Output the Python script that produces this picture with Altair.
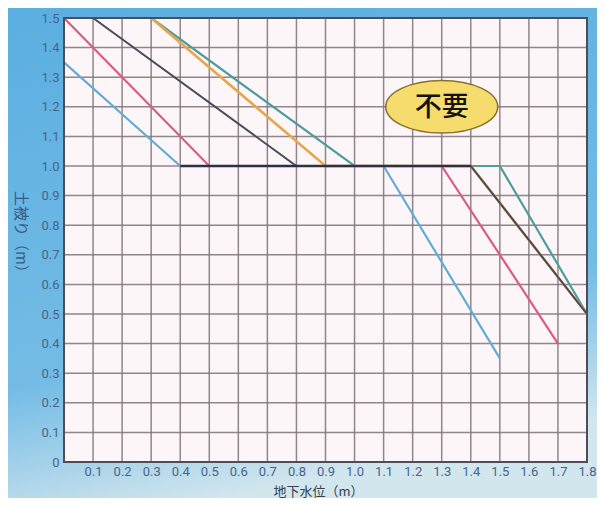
import altair as alt
import pandas as pd

# ---- data ----
x_ticks = [0.0, 0.1, 0.2, 0.3, 0.4, 0.5, 0.6, 0.7, 0.8, 0.9,
           1.0, 1.1, 1.2, 1.3, 1.4, 1.5, 1.6, 1.7, 1.8]
y_ticks = [0.0, 0.1, 0.2, 0.3, 0.4, 0.5, 0.6, 0.7, 0.8, 0.9,
           1.0, 1.1, 1.2, 1.3, 1.4, 1.5]

blue_x = [0.0, 0.4, 1.1, 1.5]
blue_y = [1.35, 1.0, 1.0, 0.35]
pink_x = [0.0, 0.5, 1.3, 1.7]
pink_y = [1.5, 1.0, 1.0, 0.4]
teal_x = [0.3, 1.0, 1.5, 1.8]
teal_y = [1.5, 1.0, 1.0, 0.5]
orange_x = [0.3, 0.9, 1.4, 1.8]
orange_y = [1.5, 1.0, 1.0, 0.5]
dark_x = [0.1, 0.8, 1.4, 1.8]
dark_y = [1.5, 1.0, 1.0, 0.5]
base_x = [0.4, 1.4]
base_y = [1.0, 1.0]

label_x = [1.3]
label_y = [1.2]
label_text = ["不要"]

x_title = "地下水位（m）"
y_title = "土被り（m）"

W, H = 523, 444

LABEL_FONT = "Roboto"
CJK_FONT = "Noto Sans CJK JP"

x_scale = alt.Scale(domain=[0, 1.8], nice=False, zero=False)
y_scale = alt.Scale(domain=[0, 1.5], nice=False, zero=False)

x_axis = alt.Axis(
    values=x_ticks, title=x_title, grid=False, domain=False, ticks=False,
    labelExpr="datum.value == 0 ? '' : format(datum.value, '.1f')",
    labelOverlap=False, labelBound=False, labelFlush=False,
    labelPadding=3, labelFontSize=13, labelFont=LABEL_FONT, labelColor="#4a6488",
    titleFont=CJK_FONT, titleFontSize=13, titleFontWeight="normal", titleColor="#34404e",
    titleX=254, titleY=33, titleBaseline="alphabetic", zindex=1,
)
y_axis = alt.Axis(
    values=y_ticks, title=y_title, grid=False, domain=False, ticks=False,
    labelExpr="datum.value == 0 ? '0   ' : format(datum.value, '.1f')",
    labelOverlap=False, labelBound=False, labelFlush=False,
    labelPadding=5, labelFontSize=13, labelFont=LABEL_FONT, labelColor="#4a6488",
    titleFont=CJK_FONT, titleFontSize=15, titleFontWeight="normal", titleColor="#3a5a80",
    titleAngle=90, titleX=-44, titleY=217, titleAlign="center", titleBaseline="middle",
    zindex=1,
)


def X(field="x"):
    return alt.X(f"{field}:Q", scale=x_scale, axis=x_axis)


def Y(field="y"):
    return alt.Y(f"{field}:Q", scale=y_scale, axis=y_axis)


# background gradient (decoration around the plot)
bg = alt.Chart(pd.DataFrame({"a": [0]})).mark_rect(
    fill=alt.Gradient(
        gradient="linear", x1=0, y1=0, x2=0.25, y2=1,
        stops=[
            alt.GradientStop(offset=0, color="#5aaee0"),
            alt.GradientStop(offset=0.72, color="#74bce6"),
            alt.GradientStop(offset=0.88, color="#a8d3ea"),
            alt.GradientStop(offset=1, color="#d2e6ee"),
        ],
    )
).encode(
    x=alt.value(-60), x2=alt.value(W + 30),
    y=alt.value(-20), y2=alt.value(H + 50),
)

plot_bg = alt.Chart(pd.DataFrame({"x": [0.0], "x2": [1.8], "y": [0.0], "y2": [1.5]})).mark_rect(
    fill="#fdf6f8"
).encode(x=X(), x2="x2:Q", y=Y(), y2="y2:Q")

vgrid = alt.Chart(pd.DataFrame({"x": x_ticks})).mark_rule(
    color="#7c7278", strokeWidth=1.5, opacity=0.85
).encode(x=X())
hgrid = alt.Chart(pd.DataFrame({"y": y_ticks})).mark_rule(
    color="#7c7278", strokeWidth=1.5, opacity=0.85
).encode(y=Y())

frame = alt.Chart(pd.DataFrame({"x": [0.0], "x2": [1.8], "y": [0.0], "y2": [1.5]})).mark_rect(
    filled=False, stroke="#4e4c58", strokeWidth=2
).encode(x=X(), x2="x2:Q", y=Y(), y2="y2:Q")


def series(xs, ys, color, width=2.2):
    df = pd.DataFrame({"x": xs, "y": ys})
    return alt.Chart(df).mark_line(color=color, strokeWidth=width).encode(x=X(), y=Y())


lines = [
    series(blue_x, blue_y, "#62acd6"),
    series(pink_x, pink_y, "#dd5a88"),
    series(teal_x, teal_y, "#4f9c9c"),
    series(orange_x, orange_y, "#e6a64a", 2.6),
    series(dark_x, dark_y, "#4a4a5a", 2.0),
    series(base_x, base_y, "#2e3048", 2.4),
]

ann_df = pd.DataFrame({"x": label_x, "y": label_y, "t": label_text})
ellipse = alt.Chart(ann_df).mark_point(
    shape="M -1 0 A 1 0.47 0 1 1 1 0 A 1 0.47 0 1 1 -1 0 Z",
    size=112 * 112, filled=True, fill="#f6dc6c", stroke="#8a7030",
    strokeWidth=1.5, opacity=1,
).encode(x=X(), y=Y())
ann_text = alt.Chart(ann_df).mark_text(
    font=CJK_FONT, fontSize=27, fontWeight=500, color="#141210",
    baseline="middle", align="center", dy=1,
).encode(x=X(), y=Y(), text="t:N")

chart = alt.layer(
    bg, plot_bg, vgrid, hgrid, *lines, frame, ellipse, ann_text
).properties(
    width=W, height=H,
    autosize=alt.AutoSizeParams(type="none"),
    padding={"left": 56, "top": 10, "right": 10, "bottom": 36},
).configure_view(stroke=None).configure(background="#74bce6")

chart.save("out.html", embed_options={"renderer": "svg", "actions": False})
